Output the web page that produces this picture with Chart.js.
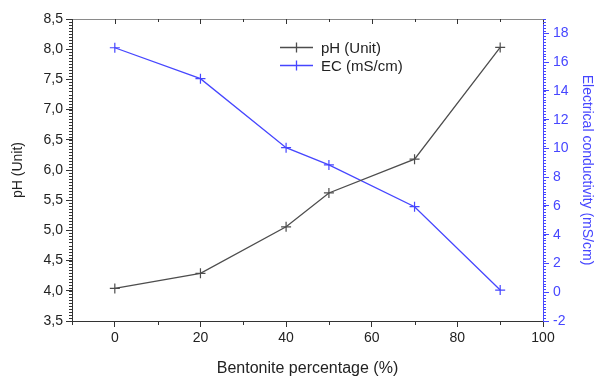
<!DOCTYPE html>
<html>
<head>
<meta charset="utf-8">
<script src="https://cdn.jsdelivr.net/npm/chart.js@4/dist/chart.umd.min.js"></script>
<style>
  html, body { margin: 0; padding: 0; background: #fff; }
  #wrap { width: 599px; height: 376px; }
</style>
</head>
<body>
<div id="wrap"><canvas id="chart" width="599" height="376"></canvas></div>
<script>
// Bentonite share vs pH and electrical conductivity
const bentonite = [0, 20, 40, 50, 70, 90];
const phValues = [4.04, 4.29, 5.06, 5.62, 6.18, 8.03];
const ecValues = [17.0, 14.85, 10.05, 8.85, 5.95, 0.15];

const xTicks = [0, 20, 40, 60, 80, 100];
const phTicks = [3.5, 4.0, 4.5, 5.0, 5.5, 6.0, 6.5, 7.0, 7.5, 8.0, 8.5];
const ecTicks = [-2, 0, 2, 4, 6, 8, 10, 12, 14, 16, 18];

const GREY = '#4d4d4d';
const BLUE = '#4646ff';
const AXIS = '#333333';
const TEXT = '#222222';
const FONT = 'Arial, "Liberation Sans", sans-serif';

function setTicks(values) {
  return scale => { scale.ticks = values.map(v => ({ value: v })); };
}

function fixSize(prop, size) {
  return scale => { scale[prop] = size; };
}

// minor ticks + top frame line
const frame = {
  id: 'frame',
  afterDraw(chart) {
    const ctx = chart.ctx;
    const { left, right, top, bottom } = chart.chartArea;
    const x = chart.scales.x, yl = chart.scales.y, yr = chart.scales.y1;
    ctx.save();
    ctx.lineWidth = 1;

    ctx.strokeStyle = '#8a8a8a';
    ctx.beginPath();
    ctx.moveTo(left, top + 0.5);
    ctx.lineTo(right, top + 0.5);
    ctx.stroke();

    // x minor ticks below, and tick marks along the top edge
    ctx.strokeStyle = AXIS;
    ctx.beginPath();
    for (let v = -10; v <= 100; v += 10) {
      const px = Math.round(x.getPixelForValue(v)) + 0.5;
      const major = xTicks.includes(v);
      if (!major) {
        ctx.moveTo(px, bottom);
        ctx.lineTo(px, bottom + 4);
      }
      ctx.moveTo(px, top);
      ctx.lineTo(px, top + (major ? 5 : 3));
    }
    ctx.stroke();

    // pH minor ticks
    ctx.beginPath();
    for (let i = 0; i <= 100; i++) {
      const v = 3.5 + i * 0.05;
      const py = Math.round(yl.getPixelForValue(v)) + 0.5;
      ctx.moveTo(left - 3, py);
      ctx.lineTo(left, py);
    }
    ctx.stroke();

    // EC minor ticks
    ctx.strokeStyle = BLUE;
    ctx.beginPath();
    for (let i = 0; i <= 105; i++) {
      const v = -2 + i * 0.2;
      const py = Math.round(yr.getPixelForValue(v)) + 0.5;
      ctx.moveTo(right, py);
      ctx.lineTo(right + 3, py);
    }
    ctx.stroke();
    ctx.restore();
  }
};

// legend drawn inside the plot
const innerLegend = {
  id: 'innerLegend',
  afterDraw(chart) {
    const ctx = chart.ctx;
    const x0 = 280, x1 = 313, tx = 321;
    const rows = [47, 65];
    ctx.save();
    ctx.font = '15px ' + FONT;
    ctx.textBaseline = 'middle';
    chart.data.datasets.forEach((ds, i) => {
      const y = rows[i] + 0.5;
      const cx = (x0 + x1) / 2;
      ctx.strokeStyle = ds.borderColor;
      ctx.lineWidth = 1.3;
      ctx.beginPath();
      ctx.moveTo(x0, y);
      ctx.lineTo(x1, y);
      ctx.moveTo(cx, y - 5);
      ctx.lineTo(cx, y + 5);
      ctx.stroke();
      ctx.fillStyle = TEXT;
      ctx.fillText(ds.label, tx, y + 1);
    });
    ctx.restore();
  }
};

new Chart(document.getElementById('chart').getContext('2d'), {
  type: 'line',
  data: {
    datasets: [
      {
        label: 'pH (Unit)',
        data: bentonite.map((b, i) => ({ x: b, y: phValues[i] })),
        yAxisID: 'y',
        borderColor: GREY,
        backgroundColor: GREY,
        borderWidth: 1.3,
        pointStyle: 'cross',
        pointRadius: 5,
        pointBorderWidth: 1.2,
        tension: 0
      },
      {
        label: 'EC (mS/cm)',
        data: bentonite.map((b, i) => ({ x: b, y: ecValues[i] })),
        yAxisID: 'y1',
        borderColor: BLUE,
        backgroundColor: BLUE,
        borderWidth: 1.3,
        pointStyle: 'cross',
        pointRadius: 5,
        pointBorderWidth: 1.2,
        tension: 0
      }
    ]
  },
  options: {
    responsive: false,
    animation: false,
    layout: { padding: { top: 19, left: 0, right: 0, bottom: 0 } },
    plugins: {
      legend: { display: false },
      tooltip: { enabled: false }
    },
    scales: {
      x: {
        type: 'linear',
        min: -10,
        max: 100,
        afterBuildTicks: setTicks(xTicks),
        afterFit: fixSize('height', 55),
        border: { display: true, color: AXIS, width: 1 },
        grid: { drawOnChartArea: false, drawTicks: true, tickLength: 6, color: AXIS },
        ticks: { color: TEXT, font: { family: FONT, size: 14 }, padding: 3 },
        title: {
          display: true,
          text: 'Bentonite percentage (%)',
          color: TEXT,
          font: { family: FONT, size: 16 },
          padding: { top: 4, bottom: -2 }
        }
      },
      y: {
        position: 'left',
        min: 3.5,
        max: 8.5,
        afterBuildTicks: setTicks(phTicks),
        afterFit: fixSize('width', 72),
        border: { display: true, color: AXIS, width: 1 },
        grid: { drawOnChartArea: false, drawTicks: true, tickLength: 6, color: AXIS },
        ticks: {
          color: TEXT,
          font: { family: FONT, size: 14 },
          padding: 3,
          callback: v => v.toFixed(1).replace('.', ',')
        },
        title: {
          display: true,
          text: 'pH (Unit)',
          color: TEXT,
          font: { family: FONT, size: 14 },
          padding: { top: 10, bottom: 4 }
        }
      },
      y1: {
        position: 'right',
        min: -2,
        max: 19,
        afterBuildTicks: setTicks(ecTicks),
        afterFit: fixSize('width', 56),
        border: { display: true, color: BLUE, width: 1 },
        grid: { drawOnChartArea: false, drawTicks: true, tickLength: 6, color: BLUE },
        ticks: { color: BLUE, font: { family: FONT, size: 14 }, padding: 4 },
        title: {
          display: true,
          text: 'Electrical conductivity (mS/cm)',
          color: BLUE,
          font: { family: FONT, size: 14 },
          padding: { top: 4, bottom: 4 }
        }
      }
    }
  },
  plugins: [frame, innerLegend]
});
</script>
</body>
</html>
